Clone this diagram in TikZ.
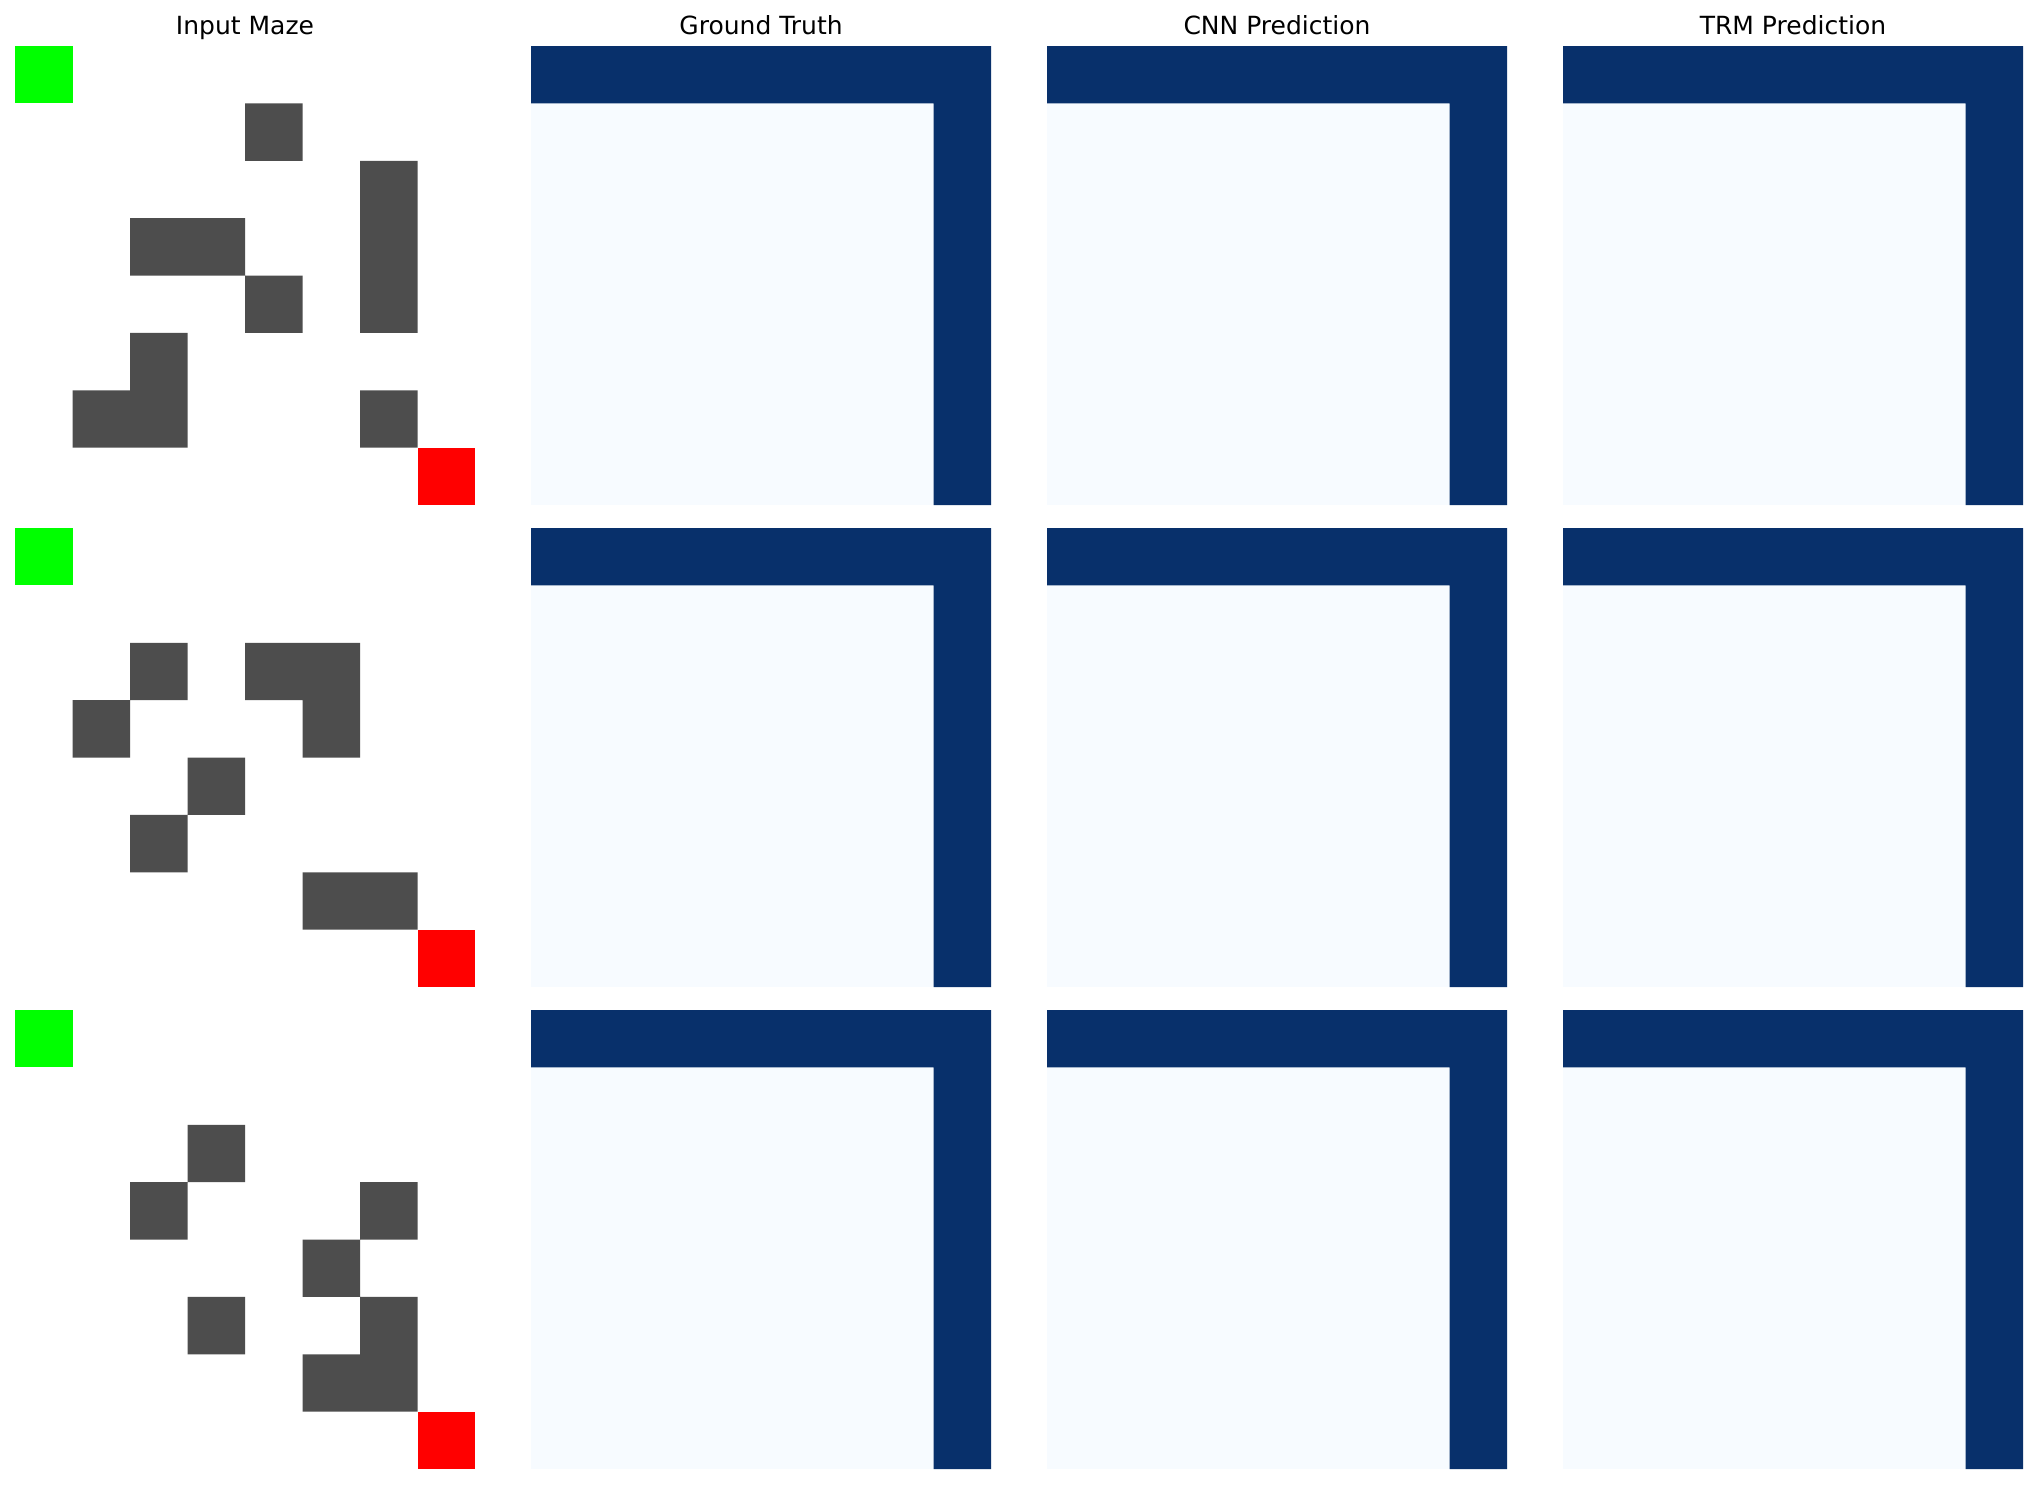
\documentclass[tikz,border=0pt]{standalone}
\usepackage{fontspec}
\setmainfont{DejaVu Sans}
\definecolor{wallgray}{HTML}{4D4D4D}
\definecolor{startgreen}{HTML}{00FF00}
\definecolor{goalred}{HTML}{FF0000}
\definecolor{pathdark}{HTML}{08306B}
\definecolor{pathlight}{HTML}{F7FBFF}
\tikzset{
  paneltitle/.style={anchor=base,inner sep=0pt,font=\fontsize{25}{30}\selectfont},
  cellgrid/.style={x=57.5pt,y=-57.375pt}
}
\newcommand{\predpanel}{%
  \fill[pathlight] (0,0) rectangle (8,8);
  \fill[pathdark] (0,0) -- (8,0) -- (8,8) -- (7,8) -- (7,1) -- (0,1) -- cycle;
}
\newcommand{\mazepanel}[1]{%
  \fill[white] (0,0) rectangle (8,8);
  \fill[startgreen] (0,0) rectangle (1,1);
  \fill[goalred] (7,7) rectangle (8,8);
  \fill[wallgray] \foreach \c/\r in {#1} {(\c,\r) rectangle ++(1,1)};
}
\begin{document}
\begin{tikzpicture}[x=1pt,y=-1pt]
\useasboundingbox (0,0) rectangle (2036,1484);
\fill[white] (0,0) rectangle (2036,1484);

\node[paneltitle] (t1) at (245,34) {Input Maze};
\node[paneltitle] (t2) at (761,34) {Ground Truth};
\node[paneltitle] (t3) at (1277,34) {CNN Prediction};
\node[paneltitle] (t4) at (1793,34) {TRM Prediction};

% row 1
\begin{scope}[shift={(15,46)},cellgrid]
  \mazepanel{4/1,6/2,6/3,6/4,2/3,3/3,4/4,2/5,1/6,2/6,6/6}
\end{scope}
% row 2
\begin{scope}[shift={(15,528)},cellgrid]
  \mazepanel{2/2,4/2,5/2,1/3,5/3,3/4,2/5,5/6,6/6}
\end{scope}
% row 3
\begin{scope}[shift={(15,1010)},cellgrid]
  \mazepanel{3/2,2/3,6/3,5/4,3/5,6/5,5/6,6/6}
\end{scope}

\foreach \py in {46,528,1010} {
  \foreach \px in {531,1047,1563} {
    \begin{scope}[shift={(\px,\py)},cellgrid]
      \predpanel
    \end{scope}
  }
}
\end{tikzpicture}
\end{document}
